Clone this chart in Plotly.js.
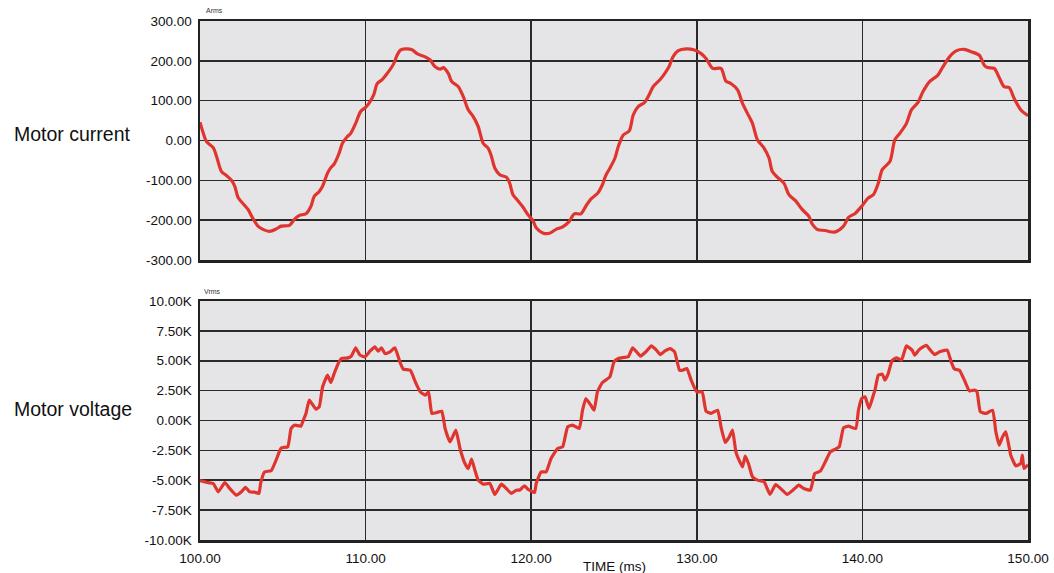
<!DOCTYPE html>
<html>
<head>
<meta charset="utf-8">
<script src="https://cdn.plot.ly/plotly-3.0.1.min.js"></script>
<style>
html,body{margin:0;padding:0;background:#fff;}
#chart{width:1054px;height:573px;}
</style>
</head>
<body>
<div id="chart"></div>
<script>
// ---- Data ----
const tCurrent = [100.0,100.2,100.4,100.8,101.0,101.3,101.6,101.9,102.1,102.3,102.7,102.9,103.2,103.5,103.8,104.2,104.6,104.9,105.4,105.7,106.0,106.4,106.7,106.9,107.2,107.4,107.7,107.9,108.1,108.4,108.6,108.9,109.1,109.4,109.7,110.0,110.2,110.5,110.7,111.0,111.3,111.7,111.9,112.1,112.4,112.8,113.1,113.6,113.9,114.2,114.5,114.7,115.0,115.2,115.6,115.9,116.2,116.5,116.8,117.1,117.4,117.6,117.8,118.1,118.5,118.7,118.9,119.2,119.5,119.8,120.1,120.3,120.7,121.1,121.5,121.9,122.3,122.6,123.0,123.3,123.6,124.0,124.3,124.5,124.76,125.06,125.26,125.56,125.92,126.16,126.46,126.86,127.16,127.36,127.76,128.06,128.32,128.56,128.86,129.36,129.86,130.26,130.56,130.96,131.46,131.76,132.06,132.46,132.76,133.06,133.36,133.66,134.06,134.36,134.56,134.86,135.26,135.56,135.96,136.36,136.76,136.96,137.26,137.76,138.32,138.86,139.16,139.56,139.96,140.36,140.66,140.96,141.2,141.66,141.96,142.26,142.66,142.96,143.36,143.66,144.06,144.56,144.86,145.26,145.66,146.16,146.56,147.06,147.36,147.56,147.96,148.26,148.56,148.86,149.16,149.56,150.0];
const current = [46,18,-3,-18,-40,-78,-88,-100,-115,-143,-163,-173,-196,-215,-223,-228,-222,-215,-213,-198,-188,-184,-165,-140,-128,-115,-82,-68,-59,-32,-7,10,18,43,73,83,93,116,143,153,168,193,214,227,230,228,218,210,202,185,179,183,168,148,135,110,77,60,35,-7,-19,-40,-69,-86,-92,-107,-136,-151,-167,-186,-201,-219,-232,-233,-223,-217,-203,-184,-184,-165,-147,-133,-111,-88,-69,-44,-15,14,24,64,85,96,118,135,152,168,185,210,225,230,227,218,206,181,181,149,143,127,93,68,43,2,-19,-44,-78,-92,-107,-136,-151,-173,-190,-209,-223,-226,-230,-215,-193,-183,-165,-144,-136,-107,-73,-53,2,18,43,77,96,123,148,164,185,210,225,229,223,214,189,183,181,158,135,133,106,77,62];

const tVoltage = [100.0,100.5,100.8,101.1,101.5,101.8,102.2,102.5,102.75,103.0,103.3,103.56,103.66,103.9,104.3,104.6,104.9,105.3,105.5,105.7,106.1,106.2,106.4,106.6,107.0,107.2,107.4,107.7,107.9,108.1,108.35,108.55,108.95,109.15,109.4,109.66,109.96,110.26,110.56,110.76,110.96,111.17,111.47,111.77,112.07,112.27,112.7,113.0,113.3,113.6,113.8,114.0,114.3,114.6,114.8,115.1,115.45,115.7,116.0,116.2,116.4,116.6,116.8,117.1,117.5,117.8,118.2,118.5,118.8,119.1,119.3,119.6,119.8,120.2,120.3,120.6,120.9,121.2,121.6,121.9,122.2,122.5,122.9,123.1,123.3,123.6,123.8,124.0,124.3,124.75,125.0,125.26,125.56,125.86,126.12,126.36,126.6,126.96,127.26,127.56,127.8,128.06,128.4,128.66,128.96,129.16,129.4,129.66,130.0,130.32,130.56,130.86,131.26,131.46,131.72,131.96,132.16,132.36,132.6,132.76,132.92,133.12,133.36,133.66,134.06,134.42,134.76,135.12,135.46,135.8,136.16,136.46,136.86,137.12,137.46,137.76,138.06,138.36,138.6,138.86,139.16,139.6,139.76,139.96,140.16,140.4,140.66,140.76,140.96,141.2,141.36,141.56,141.8,142.06,142.36,142.66,143.0,143.16,143.4,143.66,143.86,144.06,144.36,144.66,145.12,145.36,145.56,145.86,146.16,146.46,146.76,146.92,147.12,147.46,147.86,148.06,148.26,148.46,148.66,148.96,149.26,149.56,149.66,149.76,150.0];
const voltage = [-5020,-5200,-5270,-5970,-5200,-5700,-6250,-5970,-5600,-5970,-6000,-6100,-5270,-4300,-4200,-3300,-2300,-2200,-670,-390,-470,-110,590,1700,950,1140,2800,3800,3180,3930,4770,5190,5240,5410,6080,5470,5330,5800,6160,5800,6080,5600,5750,6080,4900,4300,4200,3240,2400,2120,2400,590,670,780,-670,-1790,-810,-2340,-3600,-4020,-3240,-4160,-4990,-5330,-5270,-6190,-5330,-5690,-6100,-5830,-5830,-5470,-5750,-6030,-5270,-4300,-4300,-3180,-2340,-2200,-530,-390,-670,860,1840,1280,860,2400,3180,3650,4900,5190,5270,5330,6080,5750,5380,5800,6250,5890,5520,5800,6020,5750,4210,4210,4350,3380,2400,2400,780,590,860,-530,-1840,-1370,-810,-2620,-3460,-3880,-2980,-3600,-4710,-4990,-5130,-6190,-5360,-5770,-6190,-5830,-5410,-5690,-5830,-4430,-4240,-3460,-2620,-2400,-2200,-610,-470,-670,860,1840,1980,1000,2120,2540,3790,3880,3380,3930,5050,5240,5050,6250,5890,5470,5890,6160,6300,5970,5520,5750,5890,4910,4300,4210,3380,2480,2540,2400,730,590,860,-950,-2060,-1370,-950,-2900,-3790,-3600,-2900,-4020,-3700];

const xTickVals = [100,110,120,130,140,150];
const xTickText = ["100.00","110.00","120.00","130.00","140.00","150.00"];
const currentTickVals = [-300,-200,-100,0,100,200,300];
const currentTickText = ["-300.00","-200.00","-100.00","0.00","100.00","200.00","300.00"];
const voltageTickVals = [-10000,-7500,-5000,-2500,0,2500,5000,7500,10000];
const voltageTickText = ["-10.00K","-7.50K","-5.00K","-2.50K","0.00K","2.50K","5.00K","7.50K","10.00K"];

// ---- Plot ----
const traces = [
  {x:tCurrent, y:current, type:'scatter', mode:'lines', line:{color:'#e0352f', width:3.2, shape:'spline', smoothing:0.8}, xaxis:'x', yaxis:'y', hoverinfo:'skip'},
  {x:tVoltage, y:voltage, type:'scatter', mode:'lines', line:{color:'#e0352f', width:3.2, shape:'spline', smoothing:0.4}, xaxis:'x2', yaxis:'y2', hoverinfo:'skip'}
];

const FONT = 'Liberation Sans, Arial, Helvetica, sans-serif';
const axisCommon = {
  showline:true, mirror:true, linecolor:'#222', linewidth:2.5,
  showgrid:true, gridcolor:'#2a2a2a', gridwidth:1.6,
  zeroline:false, ticks:'', fixedrange:true,
  tickfont:{family:FONT, size:13.5, color:'#111'}
};

const plotH = 573-21-33;
const layout = {
  width:1054, height:573,
  margin:{l:200, r:26, t:21, b:33},
  paper_bgcolor:'#ffffff', plot_bgcolor:'#e5e5e8',
  showlegend:false,
  font:{family:FONT, color:'#111'},
  xaxis: Object.assign({}, axisCommon, {domain:[0,1], range:[100,150], tickvals:xTickVals, ticktext:xTickText, showticklabels:false, anchor:'y'}),
  yaxis: Object.assign({}, axisCommon, {domain:[(540-260)/plotH,1], range:[-300,300], tickvals:currentTickVals, ticktext:currentTickText, anchor:'x', ticklabelstandoff:3}),
  xaxis2: Object.assign({}, axisCommon, {domain:[0,1], range:[100,150], tickvals:xTickVals, ticktext:xTickText, anchor:'y2', ticklabelstandoff:4}),
  yaxis2: Object.assign({}, axisCommon, {domain:[0,(540-301)/plotH], range:[-10000,10000], tickvals:voltageTickVals, ticktext:voltageTickText, anchor:'x2', ticklabelstandoff:3}),
  annotations:[
    {text:'Motor current', xref:'paper', yref:'paper', x:(12-200)/828, xanchor:'left', y:(573-33-134)/plotH, yanchor:'middle', showarrow:false, font:{family:FONT, size:19.5, color:'#111'}},
    {text:'Motor voltage', xref:'paper', yref:'paper', x:(12-200)/828, xanchor:'left', y:(573-33-409)/plotH, yanchor:'middle', showarrow:false, font:{family:FONT, size:19.5, color:'#111'}},
    {text:'Arms', xref:'paper', yref:'paper', x:(204-200)/828, xanchor:'left', y:(573-33-10)/plotH, yanchor:'middle', showarrow:false, font:{family:FONT, size:7, color:'#333'}},
    {text:'Vrms', xref:'paper', yref:'paper', x:(202-200)/828, xanchor:'left', y:(573-33-291)/plotH, yanchor:'middle', showarrow:false, font:{family:FONT, size:7, color:'#333'}},
    {text:'TIME (ms)', xref:'paper', yref:'paper', x:(614-200)/828, xanchor:'center', y:(573-33-566)/plotH, yanchor:'middle', showarrow:false, font:{family:FONT, size:13.5, color:'#111'}}
  ]
};

Plotly.newPlot('chart', traces, layout, {staticPlot:true, displayModeBar:false});
</script>
</body>
</html>
